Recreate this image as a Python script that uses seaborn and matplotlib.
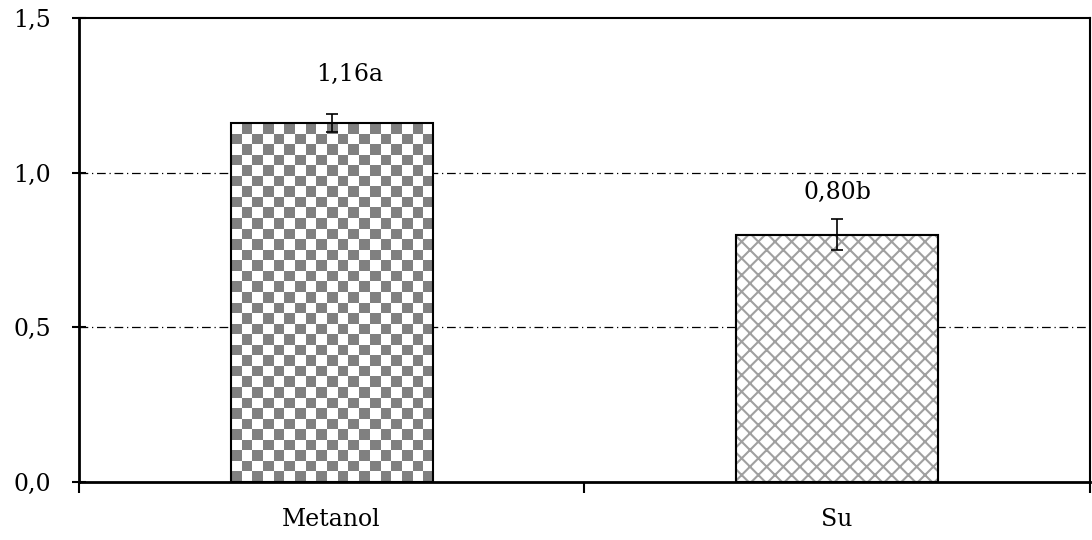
import numpy as np
import pandas as pd
import matplotlib
matplotlib.use("Agg")
import matplotlib.pyplot as plt
import seaborn as sns
from matplotlib.ticker import FixedLocator
from matplotlib.patches import Rectangle

categories = ["Metanol", "Su"]
values = [1.16, 0.80]
errors = [0.03, 0.05]
labels = ["1,16a", "0,80b"]
yticks = [0.0, 0.5, 1.0, 1.5]
ytick_labels = ["0,0", "0,5", "1,0", "1,5"]

sns.set_theme(style="white")
plt.rcParams["font.family"] = ["DejaVu Serif"]
plt.rcParams["text.color"] = "black"
plt.rcParams["xtick.color"] = "black"
plt.rcParams["ytick.color"] = "black"
plt.rcParams["hatch.linewidth"] = 1.5

df = pd.DataFrame({"cat": categories, "val": values})

fig = plt.figure(figsize=(10.92, 5.4), dpi=100)
ax = fig.add_axes([0.0723, 0.1074, 0.9257, 0.8593])

sns.barplot(data=df, x="cat", y="val", ax=ax, width=0.40, color="white",
            edgecolor="black", linewidth=1.5, errorbar=None, zorder=3)

ax.set_xlim(-0.5, 1.5)
ax.set_ylim(0, 1.5)

bars = ax.patches[:len(values)]
# Checkerboard fill for the first bar
b0 = bars[0]
x0, y0 = b0.get_x(), b0.get_y()
w0, h0 = b0.get_width(), b0.get_height()
nx, ny = 19, 34
checker = (np.add.outer(np.arange(ny), np.arange(nx)) % 2).astype(float)
im = ax.imshow(checker, cmap=matplotlib.colors.ListedColormap(["#808080", "white"]),
               extent=(x0, x0 + w0, y0, y0 + h0), origin="lower",
               interpolation="nearest", aspect="auto", zorder=2.5)
im.set_clip_path(b0)
b0.set_facecolor("none")

# Cross hatch for second bar (gray hatch, black outline)
b1 = bars[1]
b1.set_edgecolor("#a0a0a0")
b1.set_hatch("xx")
ax.add_patch(Rectangle((b1.get_x(), b1.get_y()), b1.get_width(), b1.get_height(),
                       facecolor="none", edgecolor="black", linewidth=1.5, zorder=3.2))

ax.set_xlim(-0.5, 1.5)
ax.set_ylim(0, 1.5)

# error bars
ax.errorbar(range(len(values)), values, yerr=errors, fmt="none", ecolor="black",
            elinewidth=1.2, capsize=4.5, capthick=1.2, zorder=4)

# labels
offsets = [(13, 35), (0, 30)]
for i, (v, lab) in enumerate(zip(values, labels)):
    ax.annotate(lab, (i, v), xytext=offsets[i],
                textcoords="offset points", ha="center", va="center", fontsize=17)

# grid
for yv in yticks[1:-1]:
    ax.axhline(yv, color="black", linestyle=(0, (7, 3, 1, 3)), linewidth=0.9, zorder=1)

ax.set_yticks(yticks)
ax.set_yticklabels(ytick_labels, fontsize=17)
ax.set_xticks(range(len(categories)))
ax.set_xticklabels(categories, fontsize=17)
ax.tick_params(axis="x", which="major", length=0, pad=19)
ax.xaxis.set_minor_locator(FixedLocator([-0.5, 0.5, 1.5]))
ax.tick_params(axis="x", which="minor", length=8, width=1.5, direction="out", color="black", bottom=True)
ax.tick_params(axis="y", which="major", length=10, width=1.5, direction="inout", color="black", left=True, pad=15)
ax.set_xlabel("")
ax.set_ylabel("")

for s in ["left", "bottom"]:
    ax.spines[s].set_linewidth(2.0)
for s in ["top", "right"]:
    ax.spines[s].set_linewidth(1.5)
for s in ax.spines.values():
    s.set_color("black")
    s.set_visible(True)

fig.savefig("out.png", dpi=100)
